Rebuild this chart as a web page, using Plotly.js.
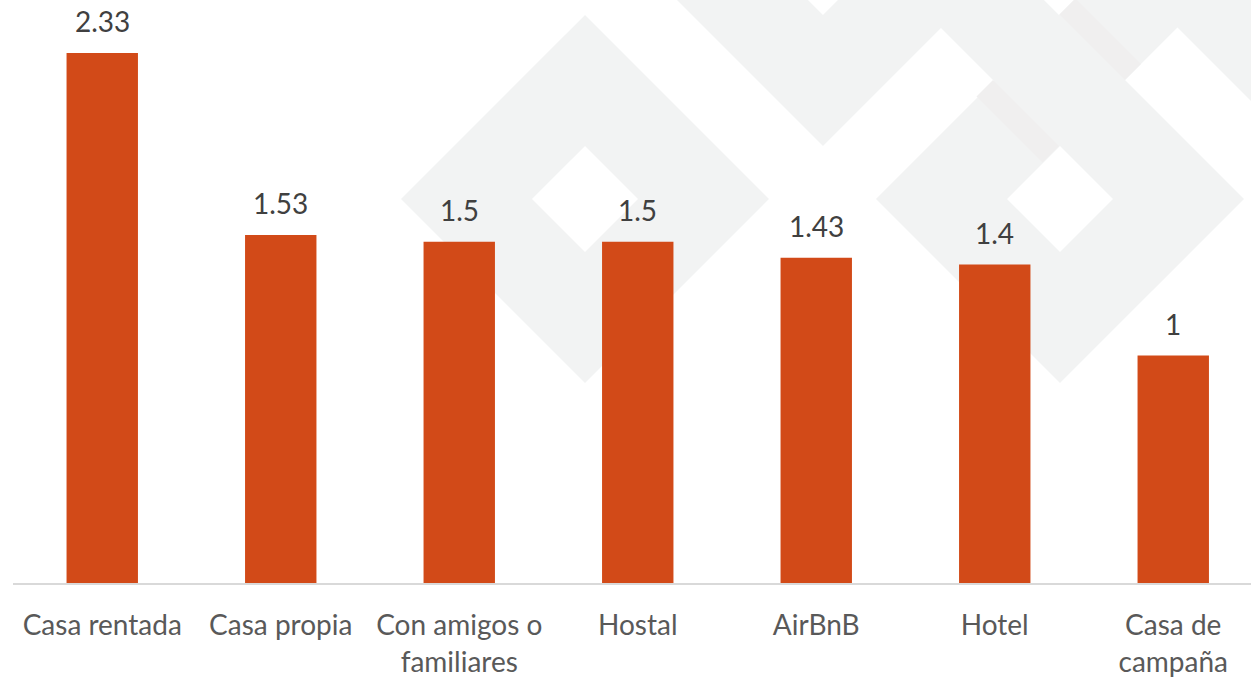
<!DOCTYPE html>
<html><head><meta charset="utf-8">
<script src="https://cdn.plot.ly/plotly-3.0.1.min.js"></script>
<style>html,body{margin:0;padding:0;background:#fff;}#chart{width:1251px;height:678px;}</style>
</head><body><div id="chart"></div>
<script>
// ---- data ----
const categories = ["Casa rentada", "Casa propia", "Con amigos o familiares", "Hostal", "AirBnB", "Hotel", "Casa de campaña"];
const tickLabels = ["Casa rentada", "Casa propia", "Con amigos o<br>familiares", "Hostal", "AirBnB", "Hotel", "Casa de<br>campaña"];
const values = [2.33, 1.53, 1.5, 1.5, 1.43, 1.4, 1];
const valueLabels = ["2.33", "1.53", "1.5", "1.5", "1.43", "1.4", "1"];

// ---- decorative background (watermark of interlocking diamond rings) ----
const W = 1251, H = 678, ML = 13, MR = 0, MT = 0, MB = 95;
const PW = W - ML - MR, PH = H - MT - MB;
const px = x => ((x - ML) / PW).toFixed(5);
const py = y => ((H - MB - y) / PH).toFixed(5);
function ringPath(cx, cy, R, r) {
  return `M${px(cx)},${py(cy - R)} L${px(cx + R)},${py(cy)} L${px(cx)},${py(cy + R)} L${px(cx - R)},${py(cy)} Z ` +
         `M${px(cx)},${py(cy - r)} L${px(cx - r)},${py(cy)} L${px(cx)},${py(cy + r)} L${px(cx + r)},${py(cy)} Z`;
}
function polyPath(pts) {
  return pts.map((p, i) => (i ? 'L' : 'M') + px(p[0]) + ',' + py(p[1])).join(' ') + ' Z';
}
const rings = [[585, 199], [1060, 199], [823, -38], [1059, -38], [1296, -38]];
const shapes = rings.map(c => ({
  type: 'path', xref: 'paper', yref: 'paper', layer: 'below',
  path: ringPath(c[0], c[1], 184, 53), fillcolor: '#f2f3f3', fillrule: 'evenodd',
  line: {width: 0}
}));
const bands = [
  [[976.5, 96.5], [993, 80], [1059, 146], [1042.5, 162.5]],
  [[1059.5, 14.5], [1075.5, -1.5], [1141, 64], [1125, 80]]
];
bands.forEach(b => shapes.push({
  type: 'path', xref: 'paper', yref: 'paper', layer: 'below',
  path: polyPath(b), fillcolor: '#f0efef', line: {width: 0}
}));

// ---- chart ----
const FONT = "Lato, 'Open Sans', 'Liberation Sans', sans-serif";
const trace = {
  type: 'bar', x: categories, y: values,
  marker: {color: '#D24A18', line: {width: 0}},
  hoverinfo: 'none'
};
const annotations = categories.map((c, i) => ({
  x: c, y: values[i], xref: 'x', yref: 'y', text: valueLabels[i],
  showarrow: false, yanchor: 'middle', yshift: 32,
  font: {family: FONT, size: 28, color: '#404040'}
}));
const layout = {
  width: W, height: H,
  margin: {l: ML, r: MR, t: MT, b: MB, pad: 0},
  paper_bgcolor: '#ffffff', plot_bgcolor: 'rgba(0,0,0,0)',
  bargap: 0.6, showlegend: false,
  xaxis: {
    type: 'category', range: [-0.5, -0.5 + PW / 178.5],
    tickvals: categories, ticktext: tickLabels,
    showline: true, linecolor: '#d9d9d9', linewidth: 1.5,
    ticks: '', showgrid: false, zeroline: false, fixedrange: true,
    ticklabelstandoff: 17,
    tickfont: {family: FONT, size: 28, color: '#595959'}
  },
  yaxis: {range: [0, PH / 227.5], visible: false, showgrid: false, zeroline: false, fixedrange: true},
  shapes: shapes,
  annotations: annotations
};
Plotly.newPlot('chart', [trace], layout, {displayModeBar: false, staticPlot: true});
</script>
</body></html>
